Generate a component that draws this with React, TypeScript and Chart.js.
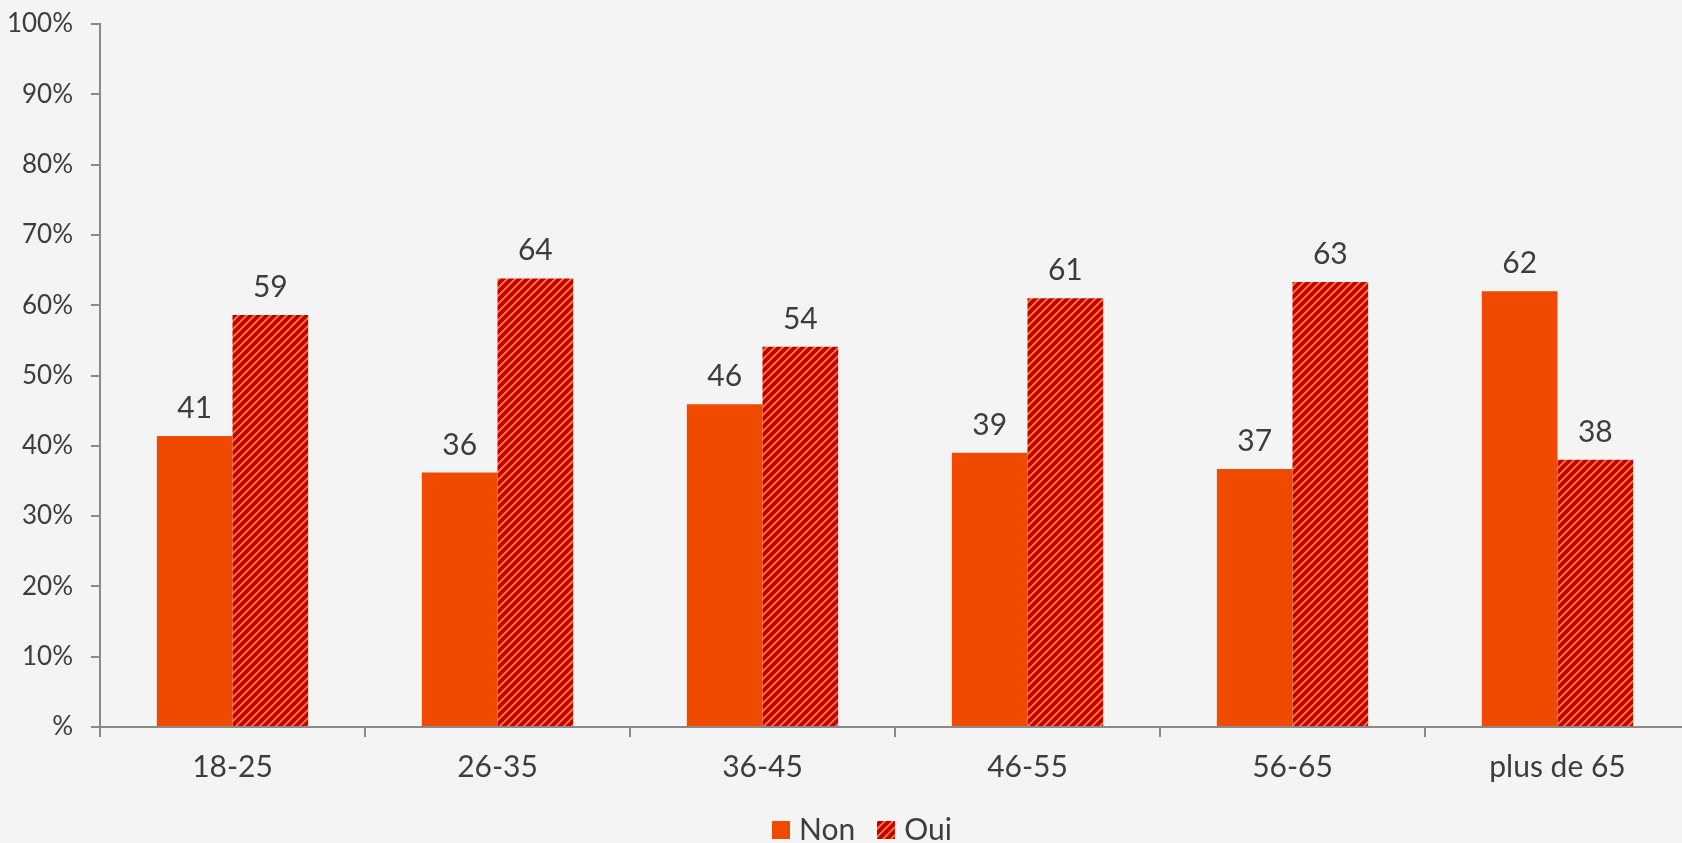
import React, { useEffect, useRef } from "react";
import { Chart, registerables } from "chart.js";

Chart.register(...registerables);

const categories = ["18-25", "26-35", "36-45", "46-55", "56-65", "plus de 65"];
const nonValues = [41.4, 36.2, 45.9, 39.0, 36.7, 62.0];
const ouiValues = [58.6, 63.8, 54.1, 61.0, 63.3, 38.0];
const seriesNames = ["Non", "Oui"];
const yTicks = [0, 10, 20, 30, 40, 50, 60, 70, 80, 90, 100];

const FONT = 'Lato, "Noto Sans", sans-serif';
const TEXT = "#3d3d3d";
const AXIS = "#8a8a8a";
const NON_COLOR = "#EF4A00";

function makeStripes(): CanvasPattern | string {
  const c = document.createElement("canvas");
  const P = 8;
  c.width = P;
  c.height = P;
  const g = c.getContext("2d");
  if (!g) return "#C00000";
  g.fillStyle = "#C00000";
  g.fillRect(0, 0, P, P);
  g.fillStyle = "#FF6B21";
  for (let y = 0; y < P; y++) {
    for (let x = 0; x < P; x++) {
      if ((x + y) % P < 3) g.fillRect(x, y, 1, 1);
    }
  }
  const p = g.createPattern(c, "repeat");
  return p || "#C00000";
}

export default function App() {
  const ref = useRef<HTMLCanvasElement | null>(null);

  useEffect(() => {
    const canvas = ref.current;
    if (!canvas) return;
    const stripes = makeStripes();
    const fills = [NON_COLOR, stripes];

    const valueLabels = {
      id: "valueLabels",
      afterDatasetsDraw(chart: any) {
        const ctx = chart.ctx;
        ctx.save();
        ctx.font = `30px ${FONT}`;
        ctx.fillStyle = TEXT;
        ctx.textAlign = "center";
        ctx.textBaseline = "alphabetic";
        chart.data.datasets.forEach((ds: any, i: number) => {
          const meta = chart.getDatasetMeta(i);
          meta.data.forEach((bar: any, j: number) => {
            ctx.fillText(String(Math.round(ds.data[j])), bar.x, bar.y - 18);
          });
        });
        ctx.restore();
      },
    };

    const customLegend = {
      id: "customLegend",
      afterDraw(chart: any) {
        const ctx = chart.ctx;
        ctx.save();
        ctx.font = `30px ${FONT}`;
        const box = 18, gap = 9, itemGap = 22;
        const widths = seriesNames.map((n) => box + gap + ctx.measureText(n).width);
        const total = widths.reduce((a, b) => a + b, 0) + itemGap * (widths.length - 1);
        let x = chart.width / 2 + 12 - total / 2;
        const baseline = 840;
        seriesNames.forEach((n, i) => {
          ctx.fillStyle = fills[i] as any;
          ctx.fillRect(Math.round(x), baseline - 19, box, box);
          ctx.fillStyle = TEXT;
          ctx.textBaseline = "alphabetic";
          ctx.textAlign = "left";
          ctx.fillText(n, x + box + gap, baseline);
          x += widths[i] + itemGap;
        });
        ctx.restore();
      },
    };

    const chart = new Chart(canvas, {
      type: "bar",
      data: {
        labels: categories,
        datasets: [
          { label: seriesNames[0], data: nonValues, backgroundColor: NON_COLOR, borderWidth: 0 },
          { label: seriesNames[1], data: ouiValues, backgroundColor: stripes as any, borderWidth: 0 },
        ],
      },
      options: {
        responsive: false,
        animation: false,
        layout: { autoPadding: false, padding: { top: 24, right: 10, left: 0, bottom: 0 } },
        datasets: { bar: { categoryPercentage: 0.571, barPercentage: 1 } },
        plugins: { legend: { display: false }, tooltip: { enabled: false } },
        scales: {
          x: {
            grid: { display: true, drawOnChartArea: false, offset: true, tickLength: 10, color: AXIS, lineWidth: 2 },
            border: { display: true, color: AXIS, width: 2 },
            ticks: { font: { family: FONT, size: 30 }, color: TEXT, padding: 12 },
            afterFit: (s: any) => { s.height = 116; s.paddingLeft = 0; s.paddingRight = 0; },
          },
          y: {
            min: 0,
            max: 100,
            afterBuildTicks: (s: any) => { s.ticks = yTicks.map((v) => ({ value: v })); },
            grid: { display: true, drawOnChartArea: false, tickLength: 9, color: AXIS, lineWidth: 2 },
            border: { display: true, color: AXIS, width: 2 },
            ticks: {
              font: { family: FONT, size: 26 },
              color: TEXT,
              padding: 18,
              callback: (v: any) => (Number(v) === 0 ? "%" : `${v}%`),
            },
            afterFit: (s: any) => { s.width = 100; s.paddingTop = 0; s.paddingBottom = 0; },
          },
        },
      },
      plugins: [valueLabels, customLegend],
    });
    return () => chart.destroy();
  }, []);

  return (
    <div
      style={{
        position: "fixed",
        left: 0,
        top: 0,
        width: 1682,
        height: 843,
        overflow: "hidden",
        background: "#f4f4f4",
      }}
    >
      <canvas ref={ref} width={1700} height={843} style={{ display: "block", width: 1700, height: 843 }} />
    </div>
  );
}
